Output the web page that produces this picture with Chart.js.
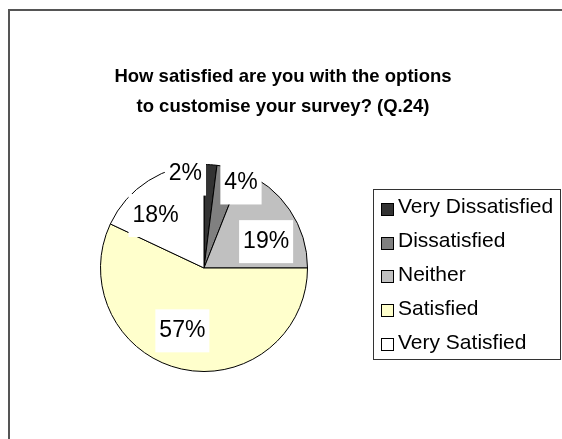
<!DOCTYPE html>
<html>
<head>
<meta charset="utf-8">
<script src="https://cdn.jsdelivr.net/npm/chart.js@4.4.0/dist/chart.umd.min.js"></script>
<style>
  html, body { margin: 0; padding: 0; background: #fff; overflow: hidden; }
  #wrap { position: relative; width: 562px; height: 439px; overflow: hidden; }
  #frame { position: absolute; left: 8px; top: 9px; width: 700px; height: 600px;
           border-left: 2px solid #555; border-top: 2px solid #555; }
  canvas { position: absolute; left: 0; top: 0; }
</style>
</head>
<body>
<div id="wrap">
  <div id="frame"></div>
  <canvas id="surveyChart" width="562" height="439"></canvas>
</div>
<script>
const titleLines = ['How satisfied are you with the options', 'to customise your survey? (Q.24)'];
const categories = ['Very Dissatisfied', 'Dissatisfied', 'Neither', 'Satisfied', 'Very Satisfied'];
const percentages = [2, 4, 19, 57, 18];
const sliceColors = ['#333333', '#808080', '#c0c0c0', '#ffffcc', '#ffffff'];

// data label placement: fraction of the radius, nudge from the slice middle in degrees
const labelSpots = [[0.925, -14.8], [0.896, 9.1], [0.652, 11.2], [0.642, 6.4], [0.69, -10.3]];

const FONT = '"Liberation Sans", Arial, sans-serif';

const surveyDecor = {
    id: 'surveyDecor',
    afterDatasetsDraw(chart) {
        const ctx = chart.ctx;
        const arcs = chart.getDatasetMeta(0).data;
        ctx.save();
        ctx.font = '23px ' + FONT;
        ctx.textAlign = 'center';
        ctx.textBaseline = 'middle';
        arcs.forEach((arc, i) => {
            const p = arc.getProps(['x', 'y', 'startAngle', 'endAngle', 'outerRadius'], true);
            const a = (p.startAngle + p.endAngle) / 2 + labelSpots[i][1] * Math.PI / 180;
            const r = p.outerRadius * labelSpots[i][0];
            const x = p.x + Math.cos(a) * r;
            const y = p.y + Math.sin(a) * r;
            const text = percentages[i] + '%';
            const w = ctx.measureText(text).width + 8;
            ctx.fillStyle = '#ffffff';
            ctx.fillRect(x - w / 2, y - 21.5, w, 43);
            ctx.fillStyle = '#000000';
            ctx.fillText(text, x, y);
        });
        ctx.restore();
    },
    afterDraw(chart) {
        const ctx = chart.ctx;
        ctx.save();

        // title
        ctx.fillStyle = '#000000';
        ctx.font = 'bold 18.5px ' + FONT;
        ctx.textAlign = 'center';
        ctx.textBaseline = 'alphabetic';
        titleLines.forEach((line, i) => ctx.fillText(line, 283, 82 + i * 30));

        // legend
        ctx.strokeStyle = '#333333';
        ctx.lineWidth = 1;
        ctx.strokeRect(373.5, 189.5, 187, 170);
        ctx.font = '21px ' + FONT;
        ctx.textAlign = 'left';
        categories.forEach((name, i) => {
            const base = 213.3 + i * 33.8;
            ctx.fillStyle = sliceColors[i];
            ctx.fillRect(381.5, Math.round(base - 10.5) + 0.5, 12, 12);
            ctx.strokeStyle = '#000000';
            ctx.strokeRect(381.5, Math.round(base - 10.5) + 0.5, 12, 12);
            ctx.fillStyle = '#000000';
            ctx.fillText(name, 398, base);
        });
        ctx.restore();
    }
};

new Chart(document.getElementById('surveyChart'), {
    type: 'pie',
    data: {
        labels: categories,
        datasets: [{
            data: percentages,
            backgroundColor: sliceColors,
            borderColor: '#000000',
            borderWidth: 1,
            radius: 103.5
        }]
    },
    options: {
        responsive: false,
        devicePixelRatio: 1,
        animation: false,
        events: [],
        layout: { padding: { left: 0, right: 154, top: 140, bottom: 43 } },
        plugins: {
            legend: { display: false },
            title: { display: false },
            tooltip: { enabled: false }
        }
    },
    plugins: [surveyDecor]
});
</script>
</body>
</html>
